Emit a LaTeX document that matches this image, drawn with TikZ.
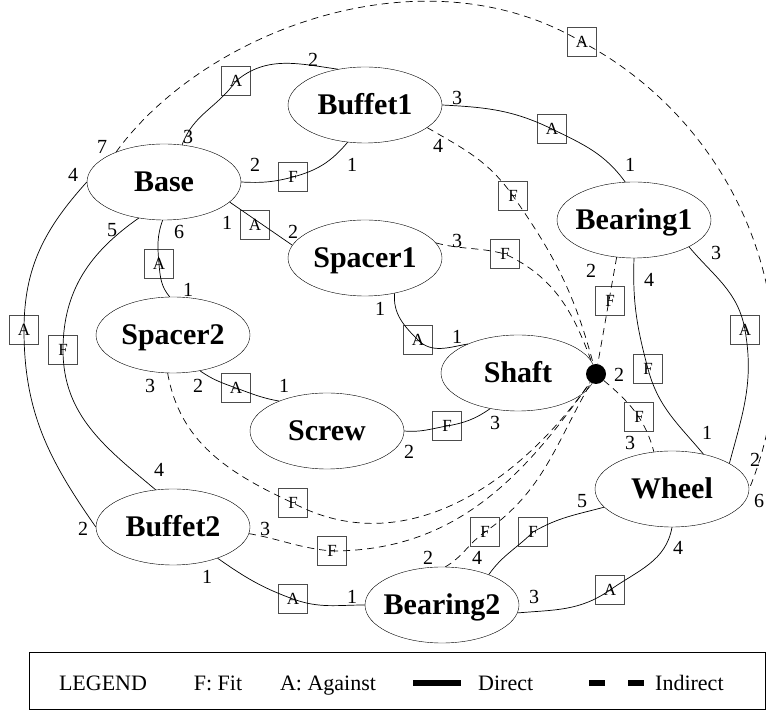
\documentclass[tikz,border=0pt]{standalone}
\usepackage{fontspec}
\setmainfont{Liberation Serif}
\usetikzlibrary{shapes.geometric}
\begin{document}
\begin{tikzpicture}[x=1pt, y=1pt]
  \tikzset{partnode/.style={draw, ellipse, minimum width=154pt, minimum height=76pt, inner sep=0pt, text height=20pt, text depth=0pt, font=\fontsize{30}{36}\selectfont\bfseries},
    tagbox/.style={draw=black!70, minimum size=29pt, inner sep=0pt, text height=11pt, text depth=0pt, font=\fontsize{17}{19}\selectfont},
    portnum/.style={inner sep=0pt, text height=13pt, text depth=0pt, font=\fontsize{20}{23}\selectfont},
    keytext/.style={inner sep=0pt, text height=15pt, text depth=0pt, font=\fontsize{22}{26}\selectfont},
    directline/.style={line width=0.7pt},
    indirectline/.style={line width=0.7pt, dash pattern=on 7pt off 5pt}}
  \useasboundingbox (0,0) rectangle (766,712);
  % parts
  \node[partnode] (buf1) at (365,607) {\makebox[0pt]{Buffet1}};
  \node[partnode] (base) at (164,530) {\makebox[0pt]{Base}};
  \node[partnode] (sp1) at (365,454) {\makebox[0pt]{Spacer1}};
  \node[partnode] (sp2) at (173,377) {\makebox[0pt]{Spacer2}};
  \node[partnode] (screw) at (327,281) {\makebox[0pt]{Screw}};
  \node[partnode] (shaft) at (518,339) {\makebox[0pt]{Shaft}};
  \node[partnode] (bear1) at (634,492) {\makebox[0pt]{Bearing1}};
  \node[partnode] (wheel) at (672,223) {\makebox[0pt]{Wheel}};
  \node[partnode] (buf2) at (173,185) {\makebox[0pt]{Buffet2}};
  \node[partnode] (bear2) at (442,107) {\makebox[0pt]{Bearing2}};
  \node[circle, fill, inner sep=0pt, minimum size=20pt] (dot) at (596,338) {};
  % contact boxes
  \node[tagbox] (a1) at (236,631) {A};
  \node[tagbox] (f2) at (293,535) {F};
  \node[tagbox] (a3) at (255,487) {A};
  \node[tagbox] (a4) at (159,448) {A};
  \node[tagbox] (a5) at (24,382) {A};
  \node[tagbox] (f6) at (63,362) {F};
  \node[tagbox] (a7) at (552,583) {A};
  \node[tagbox] (a8) at (418,372) {A};
  \node[tagbox] (a9) at (236,324) {A};
  \node[tagbox] (f10) at (447,286) {F};
  \node[tagbox] (f11) at (648,343) {F};
  \node[tagbox] (a12) at (745,382) {A};
  \node[tagbox] (f13) at (533,180) {F};
  \node[tagbox] (a14) at (610,122) {A};
  \node[tagbox] (a15) at (293,113) {A};
  \node[tagbox] (atop) at (582,670) {A};
  \node[tagbox] (fd2) at (513,516) {F};
  \node[tagbox] (fd3) at (505,458) {F};
  \node[tagbox] (fd4) at (610,411) {F};
  \node[tagbox] (fd5) at (639,295) {F};
  \node[tagbox] (fd6) at (293,209) {F};
  \node[tagbox] (fd7) at (332,161) {F};
  \node[tagbox] (fd8) at (485,180) {F};
  % direct contacts
  \draw[directline] (base.64) to[out=70,in=235] (a1.center) to[out=40,in=172] (buf1.127);
  \draw[directline] (base.0) to[out=-3,in=195] (f2.center) to[out=15,in=230] (buf1.245);
  \draw[directline] (base.343) -- (sp1.170);
  \draw[directline] (base.268) to[out=250,in=95] (a4.center) to[out=275,in=130] (sp2.95);
  \draw[directline] (base.180) to[out=228,in=90] (a5.center) to[out=270,in=125] (buf2.180);
  \draw[directline] (base.235) to[out=215,in=90] (f6.center) to[out=270,in=140] (buf2.115);
  \draw[directline] (buf1.0) to[out=-3,in=154] (a7.center) to[out=-26,in=126] (bear1.103);
  \draw[directline] (sp1.310) to[out=265,in=135] (a8.center) to[out=-45,in=190] (shaft.150);
  \draw[directline] (sp2.307) to[out=-35,in=160] (a9.center) to[out=-20,in=170] (screw.148);
  \draw[directline] (screw.0) to[out=-5,in=190] (f10.center) to[out=10,in=215] (shaft.232);
  \draw[directline] (bear1.270) to[out=268,in=105] (f11.center) to[out=-75,in=130] (wheel.48);
  \draw[directline] (bear1.334) to[out=-50,in=100] (a12.center) to[out=-80,in=75] (wheel.24);
  \draw[directline] (wheel.195) to[out=195,in=30] (f13.center) to[out=225,in=55] (bear2.33);
  \draw[directline] (wheel.270) to[out=260,in=35] (a14.center) to[out=215,in=5] (bear2.354);
  \draw[directline] (buf2.325) to[out=-35,in=160] (a15.center) to[out=-20,in=180] (bear2.180);
  % indirect contacts
  \draw[indirectline] (base.148) .. controls (203,680) and (422,765) .. (atop.center) .. controls (743,584) and (818,390) .. (wheel.0);
  \draw[indirectline] (buf1.340) to[out=-30,in=125] (fd2.center) to[out=-55,in=105] (dot);
  \draw[indirectline] (sp1.12) to[out=-15,in=165] (fd3.center) to[out=-25,in=110] (dot);
  \draw[indirectline] (bear1.245) -- (dot);
  \draw[indirectline] (dot) to[out=-40,in=105] (wheel.116);
  \draw[indirectline] (sp2.262) to[out=280,in=155] (fd6.center) to[out=-28,in=235] (dot);
  \draw[indirectline] (buf2.355) to[out=-10,in=175] (fd7.center) to[out=0,in=235] (dot);
  \draw[indirectline] (bear2.85) to[out=30,in=215] (fd8.center) to[out=35,in=240] (dot);
  % port numbers
  \foreach \px/\py/\num [count=\i] in {313/652/2, 188/575/3, 102/565/7, 73/537/4, 255/547/2, 352/547/1,
      227/489/1, 293/480/2, 112/482/5, 179/480/6, 457/614/3, 438/566/4, 630/547/1, 457/471/3,
      188/422/1, 150/326/3, 198/326/2, 284/326/1, 159/242/4, 380/403/1, 457/375/1, 591/441/2,
      649/432/4, 716/459/3, 619/337/2, 495/289/3, 409/260/2, 630/269/3, 707/279/1, 755/252/2,
      759/211/6, 83/183/2, 265/183/3, 207/135/1, 352/115/1, 428/154/2, 477/154/4, 582/211/5,
      678/164/4, 534/115/3}
    \node[portnum] (p\i) at (\px,\py) {\num};
  % legend
  \node[draw, minimum width=736pt, minimum height=57pt, inner sep=0pt] (legend) at (397,31.5) {};
  \node[keytext] (lg) at (103,29) {LEGEND};
  \node[keytext] (lfit) at (218,29) {F: Fit};
  \node[keytext] (lag) at (328,29) {A: Against};
  \coordinate (d1) at (413,29);
  \coordinate (d2) at (461,29);
  \draw[line width=6pt] (d1) -- (d2);
  \node[keytext, anchor=west] (ldir) at (478,29) {Direct};
  \coordinate (i1) at (589,29);
  \coordinate (i2) at (646,29);
  \draw[line width=6pt, dash pattern=on 16pt off 23pt] (i1) -- (i2);
  \node[keytext, anchor=west] (lind) at (655,29) {Indirect};
\end{tikzpicture}
\end{document}
